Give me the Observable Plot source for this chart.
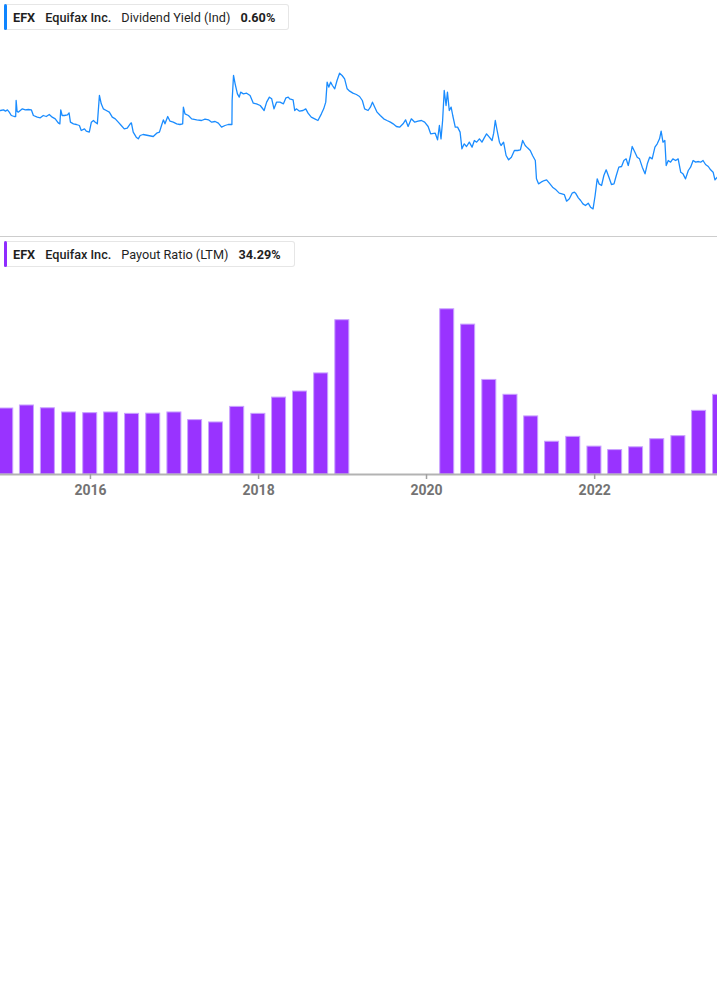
<!DOCTYPE html>
<html><head><meta charset="utf-8">
<script src="https://cdn.jsdelivr.net/npm/d3@7"></script>
<script src="https://cdn.jsdelivr.net/npm/@observablehq/plot@0.6"></script>
<style>
body{margin:0;background:#fff;font-family:Roboto,"Noto Sans",sans-serif;}
#root{position:relative;width:717px;height:1005px;overflow:hidden;background:#fff;}
.legend{position:absolute;left:4px;height:24px;border:1px solid #e6e6e6;border-left:none;border-radius:0 3px 3px 0;display:flex;align-items:center;padding-left:9px;padding-right:13px;font-size:12.7px;color:#1f1f1f;white-space:nowrap;}
.legend .acc{position:absolute;left:0;top:-1px;bottom:-1px;width:3px;border-radius:2px;}
.legend span{margin-right:10px}
.legend span.last{margin-right:0}
.b7{font-weight:700}.b5{font-weight:500}.b4{font-weight:400}
.sep{position:absolute;left:0;top:236px;width:717px;height:1px;background:#cdcdcd;}
.chart{position:absolute;left:0;}
</style></head>
<body><div id="root">
<div class="legend" style="top:4px"><div class="acc" style="background:#0f85ff"></div><span class="b7">EFX</span><span class="b5">Equifax Inc.</span><span class="b4">Dividend Yield (Ind)</span><span class="b7 last">0.60%</span></div>
<div class="chart" id="c1" style="top:35px"></div>
<div class="sep"></div>
<div class="legend" style="top:241px"><div class="acc" style="background:#8f2cff"></div><span class="b7">EFX</span><span class="b5">Equifax Inc.</span><span class="b4">Payout Ratio (LTM)</span><span class="b7 last">34.29%</span></div>
<div class="chart" id="c2" style="top:270px"></div>
</div>
<script>
const yieldDates = ["2014-12-06","2014-12-19","2014-12-28","2015-01-05","2015-01-13","2015-01-22","2015-02-04","2015-02-10","2015-02-12","2015-02-16","2015-02-21","2015-03-11","2015-03-24","2015-04-06","2015-04-19","2015-04-28","2015-05-15","2015-05-28","2015-06-10","2015-06-23","2015-07-06","2015-07-19","2015-08-01","2015-08-14","2015-08-21","2015-08-25","2015-08-31","2015-09-10","2015-09-23","2015-09-30","2015-10-06","2015-10-19","2015-11-01","2015-11-14","2015-11-22","2015-12-06","2015-12-14","2015-12-27",
"2016-01-05","2016-01-14","2016-01-22","2016-01-31","2016-02-09","2016-02-17","2016-02-26","2016-03-10","2016-03-23","2016-04-05","2016-04-18","2016-05-01","2016-05-14","2016-05-27","2016-06-09","2016-06-22","2016-06-27","2016-07-05","2016-07-18","2016-07-27","2016-08-04","2016-08-17","2016-09-08","2016-09-30","2016-10-15","2016-10-27","2016-11-05","2016-11-13","2016-11-20","2016-12-02","2016-12-12","2016-12-26",
"2017-01-10","2017-01-24","2017-02-05","2017-02-08","2017-02-15","2017-03-02","2017-03-16","2017-04-07","2017-04-28","2017-05-13","2017-05-28","2017-06-11","2017-06-26","2017-07-10","2017-07-24","2017-08-08","2017-08-22","2017-09-07","2017-09-08","2017-09-14","2017-09-21","2017-10-01","2017-10-09","2017-10-15","2017-10-27","2017-11-10","2017-11-25","2017-12-09","2017-12-23",
"2018-01-08","2018-01-25","2018-02-05","2018-02-17","2018-02-27","2018-03-09","2018-03-20","2018-04-04","2018-04-19","2018-04-30","2018-05-10","2018-05-16","2018-05-31","2018-06-07","2018-06-14","2018-06-28","2018-07-13","2018-07-25","2018-08-04","2018-08-18","2018-09-02","2018-09-16","2018-10-01","2018-10-11","2018-10-20","2018-10-26","2018-11-02","2018-11-10","2018-11-18","2018-11-28","2018-12-08","2018-12-19","2018-12-30",
"2019-01-10","2019-01-21","2019-02-01","2019-02-15","2019-03-02","2019-03-16","2019-03-28","2019-04-07","2019-04-22","2019-05-02","2019-05-11","2019-05-21","2019-05-31","2019-06-14","2019-06-29","2019-07-13","2019-07-28","2019-08-09","2019-08-23","2019-09-06","2019-09-21","2019-10-02","2019-10-13","2019-10-27","2019-11-11","2019-11-25","2019-12-10","2019-12-24",
"2020-01-08","2020-01-19","2020-02-08","2020-02-18","2020-02-26","2020-03-04","2020-03-11","2020-03-18","2020-03-26","2020-04-01","2020-04-09","2020-04-17","2020-04-24","2020-05-05","2020-05-15","2020-05-26","2020-06-03","2020-06-13","2020-06-23","2020-07-05","2020-07-17","2020-07-27","2020-08-06","2020-08-18","2020-08-29","2020-09-08","2020-09-18","2020-09-30","2020-10-12","2020-10-19","2020-10-26","2020-11-03","2020-11-13","2020-11-20","2020-12-01","2020-12-12","2020-12-23",
"2021-01-04","2021-01-17","2021-01-31","2021-02-12","2021-02-22","2021-03-05","2021-03-15","2021-03-27","2021-04-06","2021-04-18","2021-04-23","2021-05-02","2021-05-13","2021-05-27","2021-06-06","2021-06-18","2021-07-02","2021-07-17","2021-07-31","2021-08-12","2021-08-22","2021-09-01","2021-09-13","2021-09-25","2021-10-05","2021-10-10","2021-10-22","2021-11-01","2021-11-11","2021-11-22","2021-12-04","2021-12-14","2021-12-25",
"2022-01-03","2022-01-12","2022-01-20","2022-01-31","2022-02-10","2022-02-20","2022-03-04","2022-03-15","2022-03-26","2022-04-05","2022-04-16","2022-04-28","2022-05-08","2022-05-18","2022-05-27","2022-06-06","2022-06-13","2022-06-25","2022-07-05","2022-07-15","2022-07-27","2022-08-08","2022-08-18","2022-08-28","2022-09-08","2022-09-20","2022-09-30","2022-10-10","2022-10-17","2022-10-25","2022-11-02","2022-11-08","2022-11-17","2022-11-27","2022-12-07","2022-12-19","2022-12-30",
"2023-01-10","2023-01-20","2023-01-31","2023-02-12","2023-02-22","2023-03-05","2023-03-16","2023-03-28","2023-04-07","2023-04-17","2023-04-28","2023-05-10","2023-05-20","2023-05-31","2023-06-08","2023-06-18"];
const yieldValues = [1.388,1.394,1.382,1.394,1.373,1.343,1.334,1.334,1.478,1.382,1.373,1.403,1.394,1.397,1.394,1.343,1.328,1.322,1.343,1.334,1.352,1.328,1.313,1.277,1.268,1.394,1.343,1.343,1.349,1.367,1.283,1.268,1.262,1.253,1.208,1.223,1.202,1.193,
1.283,1.298,1.283,1.268,1.523,1.448,1.403,1.388,1.373,1.328,1.313,1.283,1.253,1.223,1.229,1.268,1.277,1.193,1.148,1.133,1.163,1.172,1.163,1.154,1.184,1.193,1.253,1.304,1.268,1.334,1.292,1.283,
1.268,1.262,1.268,1.418,1.358,1.343,1.313,1.304,1.298,1.310,1.304,1.283,1.289,1.274,1.238,1.253,1.262,1.262,1.478,1.703,1.628,1.538,1.508,1.553,1.538,1.544,1.523,1.454,1.448,
1.433,1.388,1.463,1.508,1.493,1.403,1.463,1.463,1.448,1.502,1.508,1.493,1.484,1.388,1.403,1.382,1.388,1.403,1.364,1.328,1.313,1.298,1.358,1.403,1.463,1.643,1.598,1.643,1.613,1.583,1.658,1.724,1.703,
1.673,1.583,1.562,1.544,1.532,1.514,1.478,1.403,1.388,1.418,1.463,1.418,1.373,1.343,1.313,1.298,1.283,1.268,1.244,1.238,1.268,1.304,1.244,1.313,1.283,1.292,1.298,1.283,
1.244,1.178,1.184,1.124,1.253,1.133,1.298,1.568,1.433,1.553,1.388,1.418,1.343,1.238,1.238,1.193,1.043,1.088,1.064,1.103,1.058,1.118,1.103,1.133,1.103,1.142,1.178,1.148,1.118,1.184,1.298,1.208,1.103,1.073,1.103,0.983,0.944,
0.968,1.028,1.028,1.034,1.118,1.073,1.052,1.028,0.983,0.938,0.773,0.728,0.743,0.758,0.764,0.734,0.698,0.674,0.644,0.638,0.632,0.572,0.593,0.644,0.653,0.644,0.602,0.578,0.548,0.533,0.554,0.518,0.503,
0.623,0.773,0.728,0.713,0.803,0.854,0.788,0.722,0.728,0.803,0.878,0.884,0.938,0.953,0.893,0.983,1.064,1.013,0.968,0.953,0.878,0.818,0.908,0.968,0.953,1.058,1.088,1.133,1.202,1.103,1.118,0.893,0.938,0.923,0.953,0.938,0.953,
0.833,0.818,0.773,0.848,0.878,0.938,0.923,0.929,0.923,0.938,0.902,0.884,0.854,0.833,0.764,0.788];

const payoutQuarters = ["2014-12-31","2015-03-31","2015-06-30","2015-09-30","2015-12-31","2016-03-31","2016-06-30","2016-09-30","2016-12-31","2017-03-31","2017-06-30","2017-09-30","2017-12-31","2018-03-31","2018-06-30","2018-09-30","2018-12-31","2019-03-31","2019-06-30","2019-09-30","2019-12-31","2020-03-31","2020-06-30","2020-09-30","2020-12-31","2021-03-31","2021-06-30","2021-09-30","2021-12-31","2022-03-31","2022-06-30","2022-09-30","2022-12-31","2023-03-31","2023-06-30"];
const payoutValues = [28.4,29.7,28.5,26.7,26.4,26.7,26.1,26.2,26.7,23.4,22.4,29.1,26.1,33.1,35.7,43.5,66.4,null,null,null,null,71.1,64.5,40.7,34.3,25.0,14.1,16.2,12.0,10.5,11.7,15.2,16.5,27.4,34.29];

const tickYears = ["2016","2018","2020","2022"];

const xDomain = [new Date("2014-12-06"), new Date("2023-06-19")];
const yieldData = yieldDates.map((d, i) => ({date: new Date(d), value: yieldValues[i]}));
const payoutData = payoutQuarters.map((q, i) => ({date: new Date(q), value: payoutValues[i]})).filter(d => d.value != null);
const half = 45.65 * 864e5;

const chart1 = Plot.plot({
  width: 717, height: 202,
  marginTop: 29.22, marginBottom: 17.22, marginLeft: 0, marginRight: 0,
  x: {type: "utc", domain: xDomain, axis: null},
  y: {domain: [0.4, 1.8], axis: null},
  marks: [
    Plot.lineY(yieldData, {x: "date", y: "value", stroke: "#1a8cff", strokeWidth: 1.3, clip: true})
  ]
});
document.getElementById("c1").appendChild(chart1);

const chart2 = Plot.plot({
  width: 717, height: 240,
  marginTop: 18.1, marginBottom: 36, marginLeft: 0, marginRight: 0,
  style: "font-family:Roboto,sans-serif;font-size:14px;font-weight:700;",
  x: {type: "utc", domain: xDomain},
  y: {domain: [0, 80], axis: null},
  marks: [
    Plot.rectY(payoutData, {x1: d => new Date(+d.date - half), x2: d => new Date(+d.date + half), y: "value", insetLeft: 3.5, insetRight: 3.5, fill: "#9933ff", stroke: "#c9a2ff", strokeWidth: 1, clip: true}),
    Plot.ruleY([0], {stroke: "#b3b3b3", strokeWidth: 2}),
    Plot.axisX({ticks: tickYears.map(t => new Date(t + "-01-01")), tickFormat: d3.utcFormat("%Y"), tickSize: 5, tickPadding: 6, stroke: "#a0a0a0", strokeWidth: 1.5, fill: "#737373", label: null})
  ]
});
document.getElementById("c2").appendChild(chart2);
</script>
</body></html>
